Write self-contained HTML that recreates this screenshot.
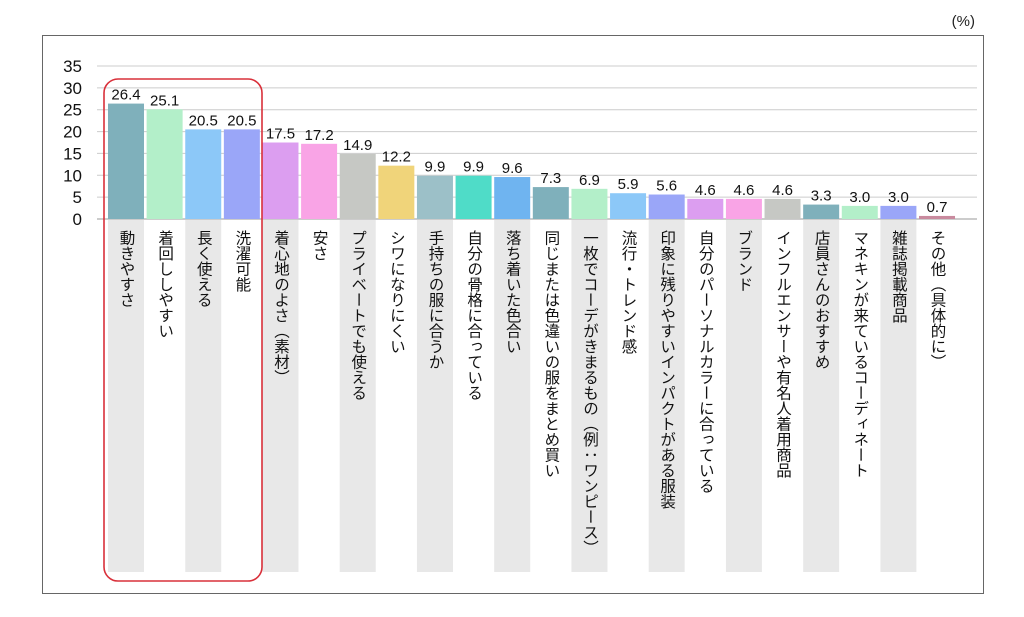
<!DOCTYPE html>
<html><head><meta charset="utf-8"><style>
body{margin:0;background:#fff;width:1024px;height:612px;overflow:hidden;font-family:"Liberation Sans","Noto Sans CJK JP",sans-serif}
</style></head><body>
<svg id="c" width="1024" height="612" xmlns="http://www.w3.org/2000/svg">
<text x="975" y="26" font-size="15" text-anchor="end" fill="#222">(%)</text>
<rect x="42.5" y="35.5" width="941" height="558" fill="none" stroke="#666" stroke-width="1"/>
<g id="bands"></g><g id="grid"></g><g id="bars"></g><g id="labels"></g>
<rect x="104" y="79" width="158" height="502" rx="14" fill="none" stroke="#d9303a" stroke-width="1.6"/>
</svg>
<script>
const categories=["動きやすさ","着回ししやすい","長く使える","洗濯可能","着心地のよさ（素材）","安さ","プライベートでも使える","シワになりにくい","手持ちの服に合うか","自分の骨格に合っている","落ち着いた色合い","同じまたは色違いの服をまとめ買い","一枚でコーデがきまるもの（例：ワンピース）","流行・トレンド感","印象に残りやすいインパクトがある服装","自分のパーソナルカラーに合っている","ブランド","インフルエンサーや有名人着用商品","店員さんのおすすめ","マネキンが来ているコーディネート","雑誌掲載商品","その他（具体的に）"];
const values=[26.4,25.1,20.5,20.5,17.5,17.2,14.9,12.2,9.9,9.9,9.6,7.3,6.9,5.9,5.6,4.6,4.6,4.6,3.3,3.0,3.0,0.7];
const yTicks=[0,5,10,15,20,25,30,35];
const colors=["#7fb0bb","#b3efc9","#8cc8f8","#9aa6f8","#dc9ef0","#f9a4e6","#c6c8c4","#f0d47a","#9cc0c8","#4fdcc8","#6fb4f0","#7fb0bb","#b3efc9","#8cc8f8","#9aa6f8","#dc9ef0","#f9a4e6","#c6c8c4","#7fb0bb","#b3efc9","#9aa6f8","#c98a9e"];
const NS="http://www.w3.org/2000/svg";
const y0=219,yTop=66,ymax=35;
const y=v=>y0-(v/ymax)*(y0-yTop);
const x0=108,pitch=38.62,bw=36;
const x=i=>x0+i*pitch;
function mk(t,a,p){const e=document.createElementNS(NS,t);for(const k in a)e.setAttribute(k,a[k]);document.getElementById(p).appendChild(e);return e;}
yTicks.forEach(t=>{
 const l=mk("line",{x1:97,x2:977,y1:y(t),y2:y(t),stroke:t===0?"#999":"#ccc","stroke-width":1},"grid");
 
 
 const tx=mk("text",{x:82,y:y(t)+6,"font-size":17,"text-anchor":"end",fill:"#111"},"grid");
 tx.textContent=t;
 
 
});
categories.forEach((c,i)=>{
 if(i%2===0){
  const b=mk("rect",{x:x(i),y:y0+1,width:bw,height:572-y0-1,fill:"#e8e8e8"},"bands");
  
  
 }
 const r=mk("rect",{x:x(i),y:y(values[i]),width:bw,height:y0-y(values[i]),fill:colors[i]},"bars");
 
 
 const v=mk("text",{x:x(i)+bw/2,y:y(values[i])-4,"font-size":15,"text-anchor":"middle",fill:"#111"},"labels");
 v.textContent=values[i].toFixed(1);
 
 
 const t=mk("text",{x:x(i)+bw/2,y:230,"font-size":15.5,fill:"#111","writing-mode":"tb",style:"writing-mode:vertical-rl;glyph-orientation-vertical:0"},"labels");
 t.textContent=c;
 
 
});
</script>
</body></html>
